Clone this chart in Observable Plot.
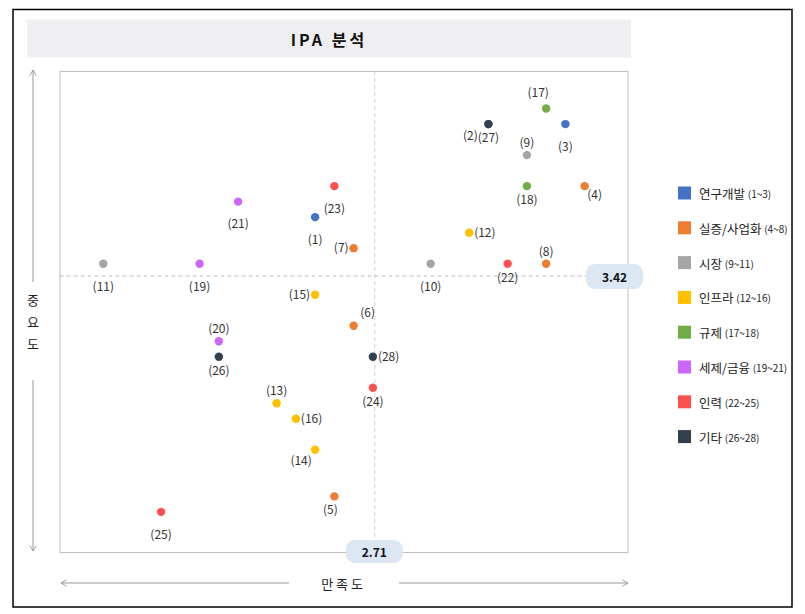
<!DOCTYPE html>
<html><head><meta charset="utf-8">
<script src="https://cdn.jsdelivr.net/npm/d3@7"></script>
<script src="https://cdn.jsdelivr.net/npm/@observablehq/plot@0.6"></script>
<style>
body{margin:0;background:#fff;}
#wrap{position:relative;width:805px;height:614px;}
</style></head><body><div id="wrap"></div>
<script>
// ---- data ----
const ids          = [1,2,3,4,5,6,7,8,9,10,11,12,13,14,15,16,17,18,19,20,21,22,23,24,25,26,27,28];
const satisfaction = [2.4,3.3,3.7,3.8,2.5,2.6,2.6,3.6,3.5,3.0,1.3,3.2,2.2,2.4,2.4,2.3,3.6,3.5,1.8,1.9,2.0,3.4,2.5,2.7,1.6,1.9,3.3,2.7];
const importance   = [3.8,4.4,4.4,4.0,2.0,3.1,3.6,3.5,4.2,3.5,3.5,3.7,2.6,2.3,3.3,2.5,4.5,4.0,3.5,3.0,3.9,3.5,4.0,2.7,1.9,2.9,4.4,2.9];
const groupIndex   = [0,0,0,1,1,1,1,1,2,2,2,3,3,3,3,3,4,4,5,5,5,6,6,6,6,7,7,7];
const groupNames   = ["연구개발","실증/사업화","시장","인프라","규제","세제/금융","인력","기타"];
const groupRanges  = ["(1~3)","(4~8)","(9~11)","(12~16)","(17~18)","(19~21)","(22~25)","(26~28)"];
const groupColors  = ["#4472C4","#ED7D31","#A5A5A5","#FFC000","#70AD47","#CC66FF","#FF5050","#323F4F"];
const meanSatisfaction = 2.71;
const meanImportance   = 3.42;
const titleText = "IPA 분석";
const xTitle = ["만","족","도"];
const yTitle = ["중","요","도"];

// label placement (layout only)
const labelPlace = {1:"b",2:"l2",3:"b",4:"br",5:"bs5",6:"ar",7:"l",8:"a",9:"a",10:"b",11:"b",12:"r",13:"a",14:"bl",15:"l",16:"r",17:"al",18:"bs",19:"b",20:"a",21:"b",22:"bs",23:"b",24:"bs",25:"b",26:"bs",27:"bs",28:"r"};
const placeStyle = {
  b:{dx:0,dy:23,anchor:"middle"}, bs:{dx:0,dy:14,anchor:"middle"}, bs5:{dx:-4,dy:14,anchor:"middle"},
  a:{dx:0,dy:-12,anchor:"middle"}, al:{dx:-8,dy:-15,anchor:"middle"},
  l:{dx:-5,dy:0,anchor:"end"}, r:{dx:5,dy:0,anchor:"start"},
  br:{dx:10,dy:9,anchor:"middle"}, ar:{dx:14,dy:-13,anchor:"middle"},
  bl:{dx:-14,dy:11,anchor:"middle"}, l2:{dx:-18,dy:12,anchor:"middle"}
};

const FONT = "'Noto Sans CJK KR','Noto Sans',sans-serif";
const rows = ids.map((id,i)=>({id, x:satisfaction[i], y:importance[i], g:groupNames[groupIndex[i]], label:`(${id})`}));

const labelMarks = rows.map(d=>{
  const s = placeStyle[labelPlace[d.id]];
  return Plot.text([d], {x:"x", y:"y", text:"label", dx:s.dx, dy:s.dy, textAnchor:s.anchor, fill:"#333", fontSize:12});
});

const plot = Plot.plot({
  width:805, height:614,
  marginLeft:59.5, marginRight:177.5, marginTop:71, marginBottom:62,
  x:{domain:[1.075,4.025], axis:null},
  y:{domain:[1.638,4.739], axis:null},
  color:{domain:groupNames, range:groupColors},
  style:{fontFamily:FONT, background:"transparent", overflow:"visible"},
  marks:[
    Plot.frame({stroke:"#bfbfbf"}),
    Plot.ruleX([meanSatisfaction], {stroke:"#d0d0d0", strokeDasharray:"4,3"}),
    Plot.ruleY([meanImportance], {stroke:"#bdbdbd", strokeDasharray:"4,3"}),
    Plot.dot(rows, {x:"x", y:"y", fill:"g", r:4.2, stroke:"none"}),
    ...labelMarks
  ]
});

const svg = d3.select(plot);
const xs = plot.scale("x"), ys = plot.scale("y");

// defs for arrows
const defs = svg.append("defs");
defs.append("marker").attr("id","arr").attr("viewBox","0 0 10 10").attr("refX",9).attr("refY",5)
  .attr("markerWidth",8).attr("markerHeight",8).attr("orient","auto-start-reverse")
  .append("path").attr("d","M2,1 L9,5 L2,9").attr("fill","none").attr("stroke","#999").attr("stroke-width",1.2);

// outer border
svg.append("rect").attr("x",13).attr("y",9.5).attr("width",779).attr("height",597.5)
  .attr("fill","none").attr("stroke","#000").attr("stroke-width",1.5);

// title bar
svg.append("rect").attr("x",27).attr("y",19.5).attr("width",604).attr("height",38).attr("fill","#EFEFF2");
svg.append("text").attr("x",329).attr("y",39).attr("text-anchor","middle").attr("dominant-baseline","central")
  .attr("font-size",16).attr("font-weight","bold").attr("letter-spacing","3px").attr("fill","#111")
  .attr("font-family",FONT).text(titleText);

// y axis arrows + label
svg.append("line").attr("x1",33).attr("x2",33).attr("y1",282).attr("y2",70).attr("stroke","#999").attr("marker-end","url(#arr)");
svg.append("line").attr("x1",33).attr("x2",33).attr("y1",380).attr("y2",551).attr("stroke","#999").attr("marker-end","url(#arr)");
yTitle.forEach((c,i)=>svg.append("text").attr("x",33).attr("y",299+i*22).attr("text-anchor","middle")
  .attr("dominant-baseline","central").attr("font-size",13).attr("fill","#222").attr("font-family",FONT).text(c));

// x axis arrows + label
svg.append("line").attr("x1",289).attr("x2",61).attr("y1",583).attr("y2",583).attr("stroke","#999").attr("marker-end","url(#arr)");
svg.append("line").attr("x1",399).attr("x2",628).attr("y1",583).attr("y2",583).attr("stroke","#999").attr("marker-end","url(#arr)");
svg.append("text").attr("x",342).attr("y",583).attr("text-anchor","middle").attr("dominant-baseline","central")
  .attr("font-size",13).attr("fill","#222").attr("font-family",FONT).text(xTitle.join(" "));

// mean badges
function badge(cx, cy, w, h, txt){
  svg.append("rect").attr("x",cx-w/2).attr("y",cy-h/2).attr("width",w).attr("height",h).attr("rx",9)
    .attr("fill","#DCE7F4");
  svg.append("text").attr("x",cx).attr("y",cy).attr("text-anchor","middle").attr("dominant-baseline","central")
    .attr("font-size",12).attr("font-weight","bold").attr("fill","#111").attr("font-family",FONT).text(txt);
}
badge(614.5, ys.apply(meanImportance)+1, 57, 25, meanImportance.toFixed(2));
badge(xs.apply(meanSatisfaction), 551.5, 57, 23, meanSatisfaction.toFixed(2));

// legend
groupNames.forEach((g,i)=>{
  const cy = 193 + i*34.8;
  svg.append("rect").attr("x",678).attr("y",cy-6.5).attr("width",13).attr("height",13).attr("fill",groupColors[i]);
  const t = svg.append("text").attr("x",699).attr("y",cy).attr("dominant-baseline","central")
    .attr("text-anchor","start").attr("fill","#222").attr("font-family",FONT);
  t.append("tspan").attr("font-size",12.5).text(g+" ");
  t.append("tspan").attr("font-size",10).text(groupRanges[i]);
});

document.getElementById("wrap").appendChild(plot);
</script>
</body></html>
